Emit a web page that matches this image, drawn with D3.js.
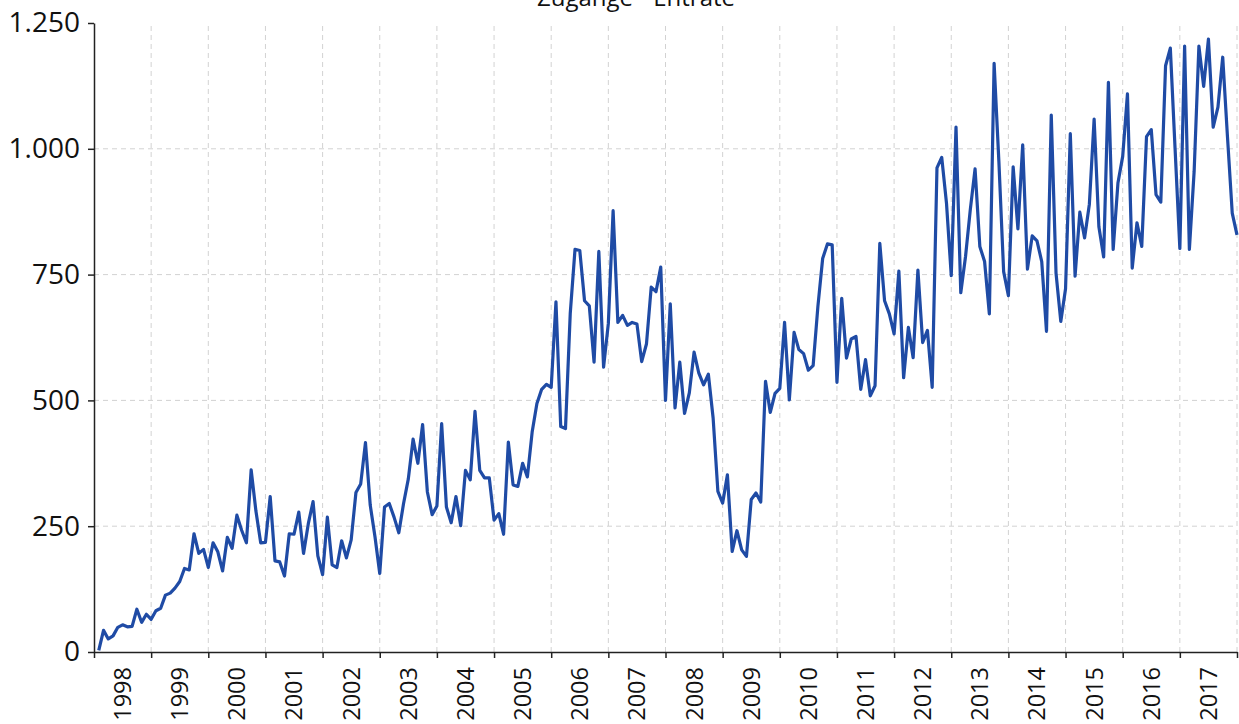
<!DOCTYPE html>
<html>
<head>
<meta charset="utf-8">
<script src="https://cdn.jsdelivr.net/npm/d3@7"></script>
<style>
  body { margin: 0; background: #fff; }
  svg text { font-family: "Open Sans", "Noto Sans", sans-serif; fill: #111; }
</style>
</head>
<body>
<svg width="1239" height="724"></svg>
<script>
// Zugänge - Entrate, monthly values Jan 1998 .. Dec 2017
var title = "Zugänge - Entrate";
var years = d3.range(1998, 2018);
var yTicks = [0, 250, 500, 750, 1000, 1250];
var entrate = [
  3, 43, 26, 32, 49, 54, 50, 51, 85, 59, 75, 65,
  82, 87, 113, 117, 127, 140, 166, 163, 235, 196, 204, 168,
  217, 199, 161, 228, 206, 272, 242, 217, 362, 280, 217, 218,
  309, 181, 179, 151, 235, 234, 278, 196, 255, 299, 191, 154,
  268, 173, 168, 221, 187, 223, 317, 334, 416, 292, 229, 156,
  288, 295, 268, 237, 295, 344, 423, 375, 452, 318, 273, 290,
  454, 288, 257, 309, 251, 361, 342, 478, 361, 346, 346, 262,
  275, 234, 417, 332, 329, 375, 348, 437, 494, 522, 532, 526,
  696, 448, 444, 673, 800, 798, 698, 688, 576, 796, 566, 653,
  877, 655, 669, 649, 655, 652, 577, 612, 725, 716, 765, 500,
  692, 485, 576, 474, 515, 596, 554, 531, 552, 465, 319, 296,
  352, 200, 241, 203, 190, 303, 316, 298, 538, 476, 514, 524,
  655, 501, 635, 601, 593, 560, 569, 687, 782, 811, 809, 536,
  703, 584, 622, 627, 522, 581, 509, 529, 812, 698, 672, 632,
  757, 545, 645, 585, 759, 615, 639, 526, 962, 983, 892, 748,
  1043, 714, 786, 879, 960, 806, 776, 672, 1170, 975, 756, 708,
  964, 841, 1008, 761, 827, 817, 776, 637, 1067, 753, 657, 722,
  1030, 747, 874, 823, 890, 1059, 845, 785, 1132, 800, 932, 985,
  1109, 763, 853, 806, 1024, 1038, 909, 894, 1165, 1200, 1000, 802,
  1204, 800, 955, 1204, 1124, 1218, 1043, 1083, 1182, 1024, 872, 829
];

var svg = d3.select('svg');
var x0 = 94, x1 = 1237, y0 = 652, y1 = 23;

var x = d3.scaleLinear().domain([1998, 2018]).range([x0, x1]);
var y = d3.scaleLinear().domain([0, 1250]).range([y0, y1]);
var fmt = d3.formatLocale({decimal: ",", thousands: ".", grouping: [3], currency: ["", "€"]}).format(",d");

// grid
svg.append("g").selectAll("line")
  .data(yTicks.slice(1, -1))
  .enter().append("line")
  .attr("x1", x0).attr("x2", x1)
  .attr("y1", d => y(d)).attr("y2", d => y(d))
  .attr("stroke", "#d2d2d2").attr("stroke-dasharray", "5,4");
svg.append("g").selectAll("line")
  .data(d3.range(1999, 2019))
  .enter().append("line")
  .attr("x1", d => x(d)).attr("x2", d => x(d))
  .attr("y1", y1 + 3).attr("y2", y0)
  .attr("stroke", "#d2d2d2").attr("stroke-dasharray", "5,4");

// axes
var yAxis = svg.append("g")
  .attr("transform", "translate(" + x0 + ",0)")
  .call(d3.axisLeft(y).tickValues(yTicks).tickSize(6).tickPadding(8).tickFormat(fmt).tickSizeOuter(0));
yAxis.selectAll("text").style("font-size", "28px").style("font-family", null);

var xAxis = svg.append("g")
  .attr("transform", "translate(0," + y0 + ")")
  .call(d3.axisBottom(x).tickValues(d3.range(1998, 2019)).tickSize(6).tickFormat("").tickSizeOuter(0));

svg.selectAll(".domain, .tick line").attr("stroke", "#222").attr("stroke-width", 1.5);

svg.append("g").selectAll("text")
  .data(years)
  .enter().append("text")
  .attr("transform", d => "translate(" + x(d + 0.5) + ",667) rotate(-90)")
  .attr("dy", "0.36em")
  .attr("text-anchor", "end")
  .style("font-size", "23.5px")
  .text(d => d);

// line
var line = d3.line()
  .x((d, i) => x(1998 + (i + 1) / 12))
  .y(d => y(d));

svg.append("path")
  .datum(entrate)
  .attr("fill", "none")
  .attr("stroke", "#1f4ba5")
  .attr("stroke-width", 3.2)
  .attr("stroke-linejoin", "round")
  .attr("d", line);

svg.append("text")
  .attr("x", 636).attr("y", 6)
  .attr("text-anchor", "middle")
  .style("font-size", "24px")
  .text(title);
</script>
</body>
</html>
